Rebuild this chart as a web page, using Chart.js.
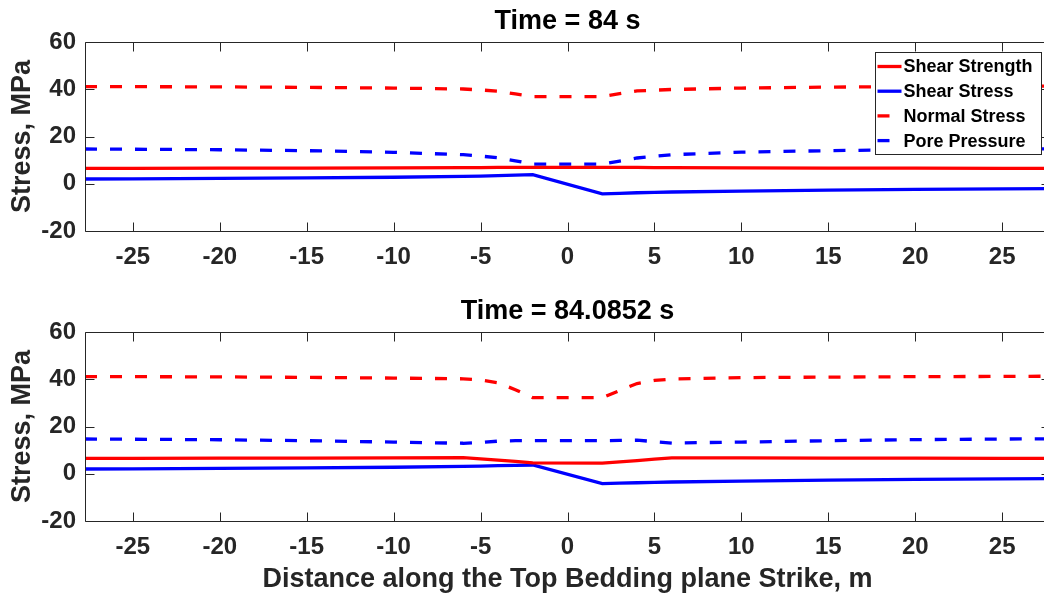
<!DOCTYPE html>
<html>
<head>
<meta charset="utf-8">
<title>Stress along the Top Bedding plane</title>
<script src="https://cdn.jsdelivr.net/npm/chart.js@4/dist/chart.umd.min.js"></script>
<style>
  html, body { margin: 0; padding: 0; background: #fff; overflow: hidden; }
  #wrap { position: relative; width: 1060px; height: 597px; }
  canvas { position: absolute; left: 0; }
  #c1 { top: 0; }
  #c2 { top: 290px; }
</style>
</head>
<body>
<div id="wrap">
  <canvas id="c1" width="1060" height="290"></canvas>
  <canvas id="c2" width="1060" height="307"></canvas>
</div>
<script>
// distance along strike (m) where the profile was sampled
const distance = [-27.75, -25, -20, -15, -10, -6, -5, -4, -3, -2, 2, 3, 4, 5, 6, 10, 15, 20, 25, 27.75];

// t = 84 s
const strength84 = [6.5, 6.5, 6.6, 6.6, 6.7, 6.8, 6.8, 6.9, 6.9, 6.9, 6.9, 6.9, 6.9, 6.8, 6.8, 6.7, 6.6, 6.6, 6.5, 6.5];
const shear84 = [2.0, 2.1, 2.25, 2.45, 2.75, 3.1, 3.25, 3.45, 3.65, 3.85, -4.3, -4.05, -3.8, -3.65, -3.5, -3.1, -2.7, -2.4, -2.2, -2.1];
const normal84 = [41.1, 41.1, 41.0, 40.8, 40.5, 40.1, 39.7, 39.2, 38.0, 36.9, 36.9, 38.1, 39.3, 39.6, 39.9, 40.5, 40.9, 41.2, 41.3, 41.3];
const pore84 = [14.7, 14.6, 14.4, 14.0, 13.3, 12.3, 11.7, 11.0, 9.7, 8.3, 8.3, 9.6, 10.9, 11.6, 12.3, 13.4, 14.0, 14.45, 14.7, 14.8];

// t = 84.0852 s
const strength840852 = [6.5, 6.5, 6.6, 6.6, 6.7, 6.8, 6.3, 5.8, 5.2, 4.6, 4.5, 5.0, 5.6, 6.2, 6.7, 6.7, 6.6, 6.6, 6.5, 6.5];
const shear840852 = [2.0, 2.1, 2.25, 2.45, 2.75, 3.1, 3.25, 3.4, 3.55, 3.7, -4.2, -4.0, -3.8, -3.65, -3.5, -3.1, -2.7, -2.4, -2.2, -2.1];
const normal840852 = [41.1, 41.1, 41.0, 40.8, 40.5, 40.2, 39.7, 38.5, 35.6, 32.2, 32.2, 35.2, 38.2, 39.5, 40.1, 40.7, 40.9, 41.1, 41.2, 41.3];
const pore840852 = [14.7, 14.6, 14.4, 14.0, 13.4, 12.9, 13.2, 13.8, 14.0, 14.0, 14.0, 14.1, 14.2, 13.6, 13.0, 13.4, 14.0, 14.45, 14.7, 14.8];

const seriesNames = ['Shear Strength', 'Shear Stress', 'Normal Stress', 'Pore Pressure'];
const xTicks = [-25, -20, -15, -10, -5, 0, 5, 10, 15, 20, 25];
const yTicks = [-20, 0, 20, 40, 60];

const seriesColors = ['#ff0000', '#0000ff', '#ff0000', '#0000ff'];
const seriesDash = [[], [], [12, 13], [12, 13]];
const FONT = '"Liberation Sans", Arial, Helvetica, sans-serif';
const AXIS = '#262626';
const TICK_LEN = 9;

// axes box with inward tick marks on all four sides
const boxAxes = {
  id: 'boxAxes',
  afterDraw(chart) {
    const { ctx, chartArea: a, scales } = chart;
    const l = Math.round(a.left) + 0.5, r = Math.round(a.right) + 0.5;
    const t = Math.round(a.top) + 0.5, b = Math.round(a.bottom) + 0.5;
    ctx.save();
    ctx.strokeStyle = AXIS;
    ctx.lineWidth = 1;
    ctx.beginPath();
    ctx.rect(l, t, r - l, b - t);
    xTicks.forEach(v => {
      const x = Math.round(scales.x.getPixelForValue(v)) + 0.5;
      ctx.moveTo(x, b); ctx.lineTo(x, b - TICK_LEN);
      ctx.moveTo(x, t); ctx.lineTo(x, t + TICK_LEN);
    });
    yTicks.forEach(v => {
      const y = Math.round(scales.y.getPixelForValue(v)) + 0.5;
      ctx.moveTo(l, y); ctx.lineTo(l + TICK_LEN, y);
      ctx.moveTo(r, y); ctx.lineTo(r - TICK_LEN, y);
    });
    ctx.stroke();
    ctx.restore();
  }
};

// legend inside the upper right corner, framed
const boxLegend = {
  id: 'boxLegend',
  afterDraw(chart, args, opts) {
    if (!opts.show) return;
    const { ctx, chartArea: a } = chart;
    const w = 166, h = 102;
    const x0 = Math.round(a.right - 9 - w) + 0.5;
    const y0 = Math.round(a.top + 10) + 0.5;
    ctx.save();
    ctx.fillStyle = '#fff';
    ctx.fillRect(x0, y0, w, h);
    ctx.strokeStyle = AXIS;
    ctx.lineWidth = 1;
    ctx.strokeRect(x0, y0, w, h);
    ctx.font = 'bold 18px ' + FONT;
    ctx.textBaseline = 'middle';
    chart.data.datasets.forEach((ds, i) => {
      const y = y0 + 14 + i * 24.7;
      ctx.beginPath();
      ctx.strokeStyle = ds.borderColor;
      ctx.lineWidth = ds.borderWidth;
      ctx.setLineDash(ds.borderDash);
      ctx.moveTo(x0 + 2, y);
      ctx.lineTo(x0 + 26, y);
      ctx.stroke();
      ctx.setLineDash([]);
      ctx.fillStyle = '#000';
      ctx.fillText(ds.label, x0 + 28, y + 1);
    });
    ctx.restore();
  }
};

function makeDatasets(series) {
  return seriesNames.map((name, i) => ({
    label: name,
    data: distance.map((x, j) => ({ x: x, y: series[i][j] })),
    borderColor: seriesColors[i],
    borderDash: seriesDash[i],
    borderWidth: 3.3,
    borderCapStyle: 'butt',
    pointRadius: 0,
    tension: 0,
    fill: false
  }));
}

function drawPanel(canvasId, title, series, withLegend, withXTitle) {
  const tickFont = { family: FONT, size: 24, weight: 'bold' };
  const labelFont = { family: FONT, size: 27, weight: 'bold' };
  return new Chart(document.getElementById(canvasId), {
    type: 'line',
    data: { datasets: makeDatasets(series) },
    options: {
      responsive: false,
      animation: false,
      devicePixelRatio: 1,
      layout: { padding: { left: 0, right: 10, top: 0, bottom: 0 } },
      plugins: {
        legend: { display: false },
        tooltip: { enabled: false },
        title: {
          display: true,
          text: title,
          fullSize: false,
          color: '#000',
          font: labelFont,
          padding: { top: 5, bottom: 4.6 }
        },
        boxLegend: { show: withLegend }
      },
      scales: {
        x: {
          type: 'linear',
          min: distance[0],
          max: distance[distance.length - 1],
          afterBuildTicks: s => { s.ticks = xTicks.map(v => ({ value: v })); },
          afterFit: s => { s.height = withXTitle ? 76 : 59; },
          ticks: { color: AXIS, font: tickFont, padding: 12, maxRotation: 0, autoSkip: false },
          grid: { drawOnChartArea: false, drawTicks: false },
          border: { display: false },
          title: {
            display: withXTitle,
            text: 'Distance along the Top Bedding plane Strike, m',
            color: AXIS,
            font: labelFont,
            padding: { top: 0, bottom: 1 }
          }
        },
        y: {
          min: -20,
          max: 60,
          afterBuildTicks: s => { s.ticks = yTicks.map(v => ({ value: v })); },
          afterFit: s => { s.width = 85; },
          ticks: { color: AXIS, font: tickFont, padding: 9 },
          grid: { drawOnChartArea: false, drawTicks: false },
          border: { display: false },
          title: {
            display: true,
            text: 'Stress, MPa',
            color: AXIS,
            font: labelFont,
            padding: { top: 6, bottom: 0 }
          }
        }
      }
    },
    plugins: [boxAxes, boxLegend]
  });
}

drawPanel('c1', 'Time = 84 s', [strength84, shear84, normal84, pore84], true, false);
drawPanel('c2', 'Time = 84.0852 s', [strength840852, shear840852, normal840852, pore840852], false, true);
</script>
</body>
</html>
